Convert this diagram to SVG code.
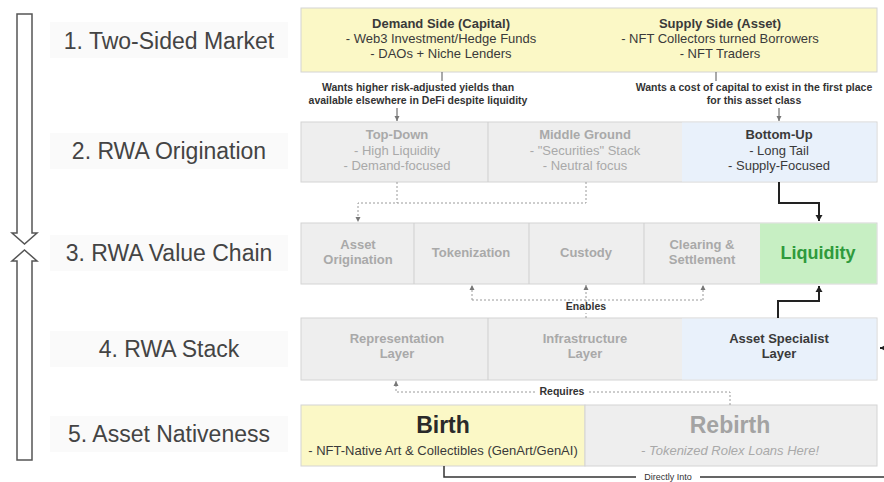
<svg xmlns="http://www.w3.org/2000/svg" width="884" height="482" viewBox="0 0 884 482">
<defs>
<style>
text{font-family:"Liberation Sans",Arial,sans-serif}
.lbl{font-size:23px;fill:#444;text-anchor:middle}
.lblbg{fill:#fafafa}
.t{font-size:13px;text-anchor:middle}
.b{font-weight:bold}
.dk{fill:#3a3a3a}
.gr{fill:#a9a9a9}
.box{stroke:#d4d4d4;stroke-width:1}
.div{stroke:#cfcfcf;stroke-width:1}
.yel{fill:#fbf8c6}
.gry{fill:#eeeeee}
.blu{fill:#e9f1fb}
.grn{fill:#c7efc3}
.dash{fill:none;stroke:#9a9a9a;stroke-width:1;stroke-dasharray:2 2}
.thin{fill:none;stroke:#555;stroke-width:1}
.solid{fill:none;stroke:#222;stroke-width:2}
.cl{font-size:10.5px;font-weight:bold;fill:#333;text-anchor:middle}
.big{fill:none;stroke:#555;stroke-width:1.5}
</style>
<marker id="ag" markerWidth="6" markerHeight="6" refX="5" refY="3" orient="auto" markerUnits="userSpaceOnUse"><path d="M0,0.5 L5,3 L0,5.5 Z" fill="#777"/></marker>
<marker id="ak" markerWidth="8" markerHeight="8" refX="6" refY="4" orient="auto" markerUnits="userSpaceOnUse"><path d="M0,0.5 L6,4 L0,7.5 Z" fill="#222"/></marker>
</defs>
<rect width="884" height="482" fill="#ffffff"/>

<g id="side-arrows">
<polygon class="big" fill="#fff" points="17,14 32,14 32,233 37,233 24.5,244 12,233 17,233"/>
<polygon class="big" fill="#fff" points="24.5,250 37,261 32,261 32,460 17,460 17,261 12,261"/>
</g>

<g id="row-labels">
<rect class="lblbg" x="50" y="22" width="238" height="36"/>
<text class="lbl" x="169" y="49">1. Two-Sided Market</text>
<rect class="lblbg" x="50" y="133" width="238" height="36"/>
<text class="lbl" x="169" y="159">2. RWA Origination</text>
<rect class="lblbg" x="50" y="235" width="238" height="36"/>
<text class="lbl" x="169" y="261">3. RWA Value Chain</text>
<rect class="lblbg" x="50" y="331" width="238" height="36"/>
<text class="lbl" x="169" y="357">4. RWA Stack</text>
<rect class="lblbg" x="50" y="416" width="238" height="36"/>
<text class="lbl" x="169" y="442">5. Asset Nativeness</text>
</g>

<g id="two-sided-market">
<rect class="box yel" x="301" y="8" width="576" height="64"/>
<g id="demand-side">
<text class="t b dk" x="441" y="28">Demand Side (Capital)</text>
<text class="t dk" x="441" y="43">- Web3 Investment/Hedge Funds</text>
<text class="t dk" x="441" y="58">- DAOs + Niche Lenders</text>
</g>
<g id="supply-side">
<text class="t b dk" x="720" y="28">Supply Side (Asset)</text>
<text class="t dk" x="720" y="43">-  NFT Collectors turned Borrowers</text>
<text class="t dk" x="720" y="58">- NFT Traders</text>
</g>
</g>

<g id="rwa-origination">
<rect class="box gry" x="301" y="122" width="576" height="60"/>
<rect class="blu" x="682" y="122.5" width="194.5" height="59"/>
<line class="div" x1="488" y1="122" x2="488" y2="182"/>
<g id="top-down">
<text class="t b gr" x="397" y="139">Top-Down</text>
<text class="t gr" x="397" y="155">- High Liquidity</text>
<text class="t gr" x="397" y="170">- Demand-focused</text>
</g>
<g id="middle-ground">
<text class="t b gr" x="585" y="139">Middle Ground</text>
<text class="t gr" x="585" y="155">- "Securities" Stack</text>
<text class="t gr" x="585" y="170">- Neutral focus</text>
</g>
<g id="bottom-up">
<text class="t b dk" x="779" y="139">Bottom-Up</text>
<text class="t dk" x="779" y="155">- Long Tail</text>
<text class="t dk" x="779" y="170">- Supply-Focused</text>
</g>
</g>

<g id="rwa-value-chain">
<rect class="box gry" x="301" y="223" width="576" height="61"/>
<rect class="grn" x="760" y="223.5" width="116.5" height="60"/>
<line class="div" x1="414" y1="223" x2="414" y2="284"/>
<line class="div" x1="529" y1="223" x2="529" y2="284"/>
<line class="div" x1="644" y1="223" x2="644" y2="284"/>
<g id="asset-origination">
<text class="t b gr" x="358" y="249">Asset</text>
<text class="t b gr" x="358" y="264">Origination</text>
</g>
<g id="tokenization"><text class="t b gr" x="471" y="257">Tokenization</text></g>
<g id="custody"><text class="t b gr" x="586" y="257">Custody</text></g>
<g id="clearing-settlement">
<text class="t b gr" x="702" y="249">Clearing &amp;</text>
<text class="t b gr" x="702" y="264">Settlement</text>
</g>
<g id="liquidity"><text class="b" x="818" y="259" font-size="18" fill="#2f9a3c" text-anchor="middle">Liquidity</text></g>
</g>

<g id="rwa-stack">
<rect class="box gry" x="301" y="318" width="576" height="62"/>
<rect class="blu" x="682" y="318.5" width="194.5" height="61"/>
<line class="div" x1="488" y1="318" x2="488" y2="380"/>
<g id="representation-layer">
<text class="t b gr" x="397" y="343">Representation</text>
<text class="t b gr" x="397" y="358">Layer</text>
</g>
<g id="infrastructure-layer">
<text class="t b gr" x="585" y="343">Infrastructure</text>
<text class="t b gr" x="585" y="358">Layer</text>
</g>
<g id="asset-specialist-layer">
<text class="t b dk" x="779" y="343">Asset Specialist</text>
<text class="t b dk" x="779" y="358">Layer</text>
</g>
</g>

<g id="asset-nativeness">
<g id="birth">
<rect class="box yel" x="301" y="405" width="284" height="61"/>
<text class="b" x="443" y="433" font-size="23" fill="#2a2a2a" text-anchor="middle">Birth</text>
<text class="t dk" x="443" y="455">- NFT-Native Art &amp; Collectibles (GenArt/GenAI)</text>
</g>
<g id="rebirth">
<rect class="box gry" x="585" y="405" width="292" height="61"/>
<text class="b" x="730" y="433" font-size="23" fill="#a3a3a3" text-anchor="middle">Rebirth</text>
<text class="t gr" x="730" y="455" font-style="italic">- Tokenized Rolex Loans Here!</text>
</g>
</g>

<g id="connectors">
<path class="thin" d="M442,72 V94 H397 V121" marker-end="url(#ag)"/>
<rect x="302" y="81" width="234" height="27" fill="#fff"/>
<text class="cl" x="418" y="91">Wants higher risk-adjusted yields than</text>
<text class="cl" x="418" y="104">available elsewhere in DeFi despite liquidity</text>

<path class="thin" d="M716,72 V94 H779 V121" marker-end="url(#ag)"/>
<rect x="628" y="81" width="252" height="27" fill="#fff"/>
<text class="cl" x="754" y="91">Wants a cost of capital to exist in the first place</text>
<text class="cl" x="754" y="104">for this asset class</text>

<path class="dash" d="M397,182 V203"/>
<path class="dash" d="M586,182 V203 H358 V222" marker-end="url(#ag)"/>
<path class="solid" d="M779,182 V203 H819 V221" marker-end="url(#ak)"/>

<path class="dash" d="M586,318 V285" marker-end="url(#ag)"/>
<path class="dash" d="M472,300 V285" marker-end="url(#ag)"/>
<path class="dash" d="M703,300 V285" marker-end="url(#ag)"/>
<path class="dash" d="M472,300 H703"/>
<rect x="563" y="302" width="46" height="11" fill="#fff"/>
<text class="cl" x="586" y="310" font-size="9.5">Enables</text>

<path class="solid" d="M778,318 V301 H819 V286" marker-end="url(#ak)"/>

<path class="dash" d="M730,405 V392 H396 V381" marker-end="url(#ag)"/>
<rect x="537" y="386" width="51" height="11" fill="#fff"/>
<text class="cl" x="562" y="395" font-size="9.5">Requires</text>

<path class="solid" d="M884,348 H880" marker-end="url(#ak)"/>

<path fill="none" stroke="#333" stroke-width="1.5" d="M444,466 V477 H884"/>
<rect x="636" y="472" width="64" height="10" fill="#fff"/>
<text x="668" y="480" font-size="9" fill="#333" text-anchor="middle">Directly Into</text>
</g>
</svg>
